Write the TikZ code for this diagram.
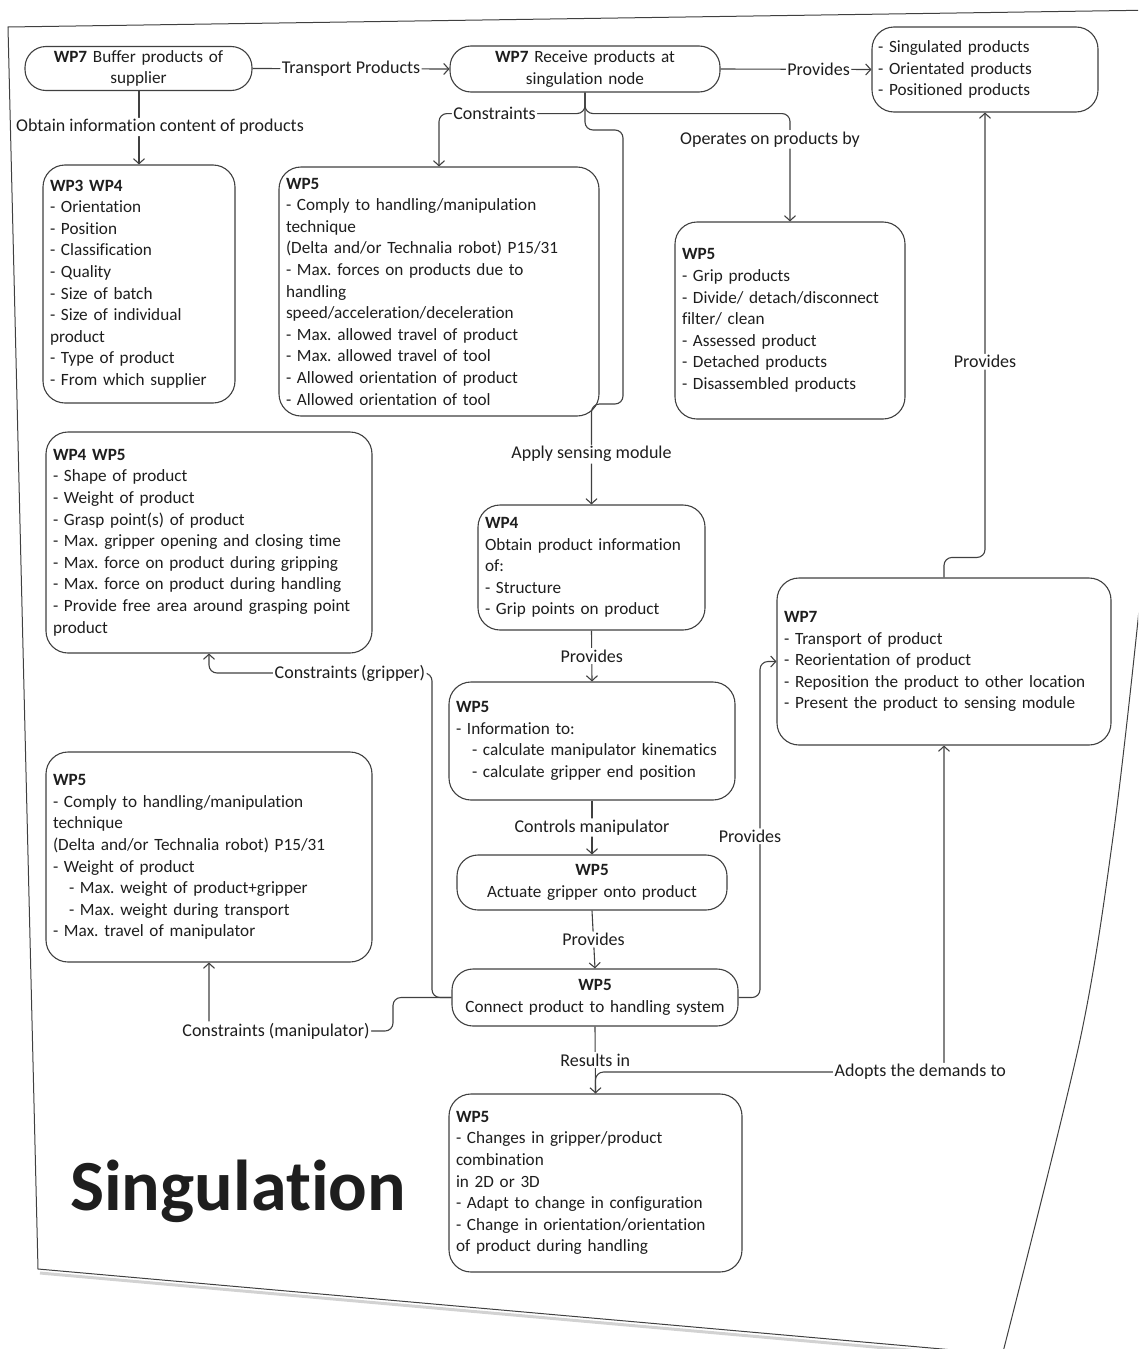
\documentclass[tikz,border=0pt]{standalone}
\usepackage{fontspec}
\setmainfont{Carlito}[Ligatures=NoCommon]
\usetikzlibrary{arrows.meta}
\definecolor{linec}{HTML}{404040}
\definecolor{txt}{HTML}{1E1E1E}
\frenchspacing
\begin{document}
\frenchspacing
\begin{tikzpicture}[x=1pt,y=-1pt,
  every node/.style={font=\fontsize{17.2}{21.6}\selectfont\frenchspacing, text=txt},
  box/.style={draw=linec, line width=1.1pt, rounded corners=22pt, fill=white, align=left, inner xsep=7pt, inner ysep=0pt},
  pill/.style={box, align=center, rounded corners=21pt},
  lbl/.style={fill=white, inner sep=1.5pt, font=\fontsize{18}{21.6}\selectfont},
  conn/.style={draw=linec, line width=1.1pt, rounded corners=8pt, -{Straight Barb[length=5pt,width=11pt]}},
  frameline/.style={draw=linec, line width=1pt}]
\useasboundingbox (0,0) rectangle (1138,1349);
\begin{scope}
\clip (0,0) rectangle (1138,1349);
\draw[gray!35, line width=3pt] (40,1273) -- (1010,1359);
\draw[frameline] (1160,10) -- (8,27) -- (38,1269) -- (1010,1355);
\draw[frameline] plot[smooth] coordinates {(1150,480) (1138,620) (1113,837) (1080,1040) (1003,1352)};
\end{scope}

% nodes
\node[pill, text width=213pt, minimum height=44pt] (buf) at (138.5,68.5) {\textbf{WP7} Buffer products of\\supplier};
\node[pill, text width=256pt, minimum height=46pt] (recv) at (585,69) {\textbf{WP7} Receive products at\\singulation node};
\node[box, text width=214pt, inner xsep=6pt, minimum height=85pt] (out) at (985,69.5) {- Singulated products\\- Orientated products\\- Positioned products};
\node[box, text width=178pt, minimum height=238pt] (wp34) at (139,284) {\textbf{WP3 WP4}\\- Orientation\\- Position\\- Classification\\- Quality\\- Size of batch\\- Size of individual\\product\\- Type of product\\- From which supplier};
\node[box, text width=306pt, minimum height=249pt] (wp5a) at (439,291.5) {\textbf{WP5}\\- Comply to handling/manipulation\\technique\\(Delta and/or Technalia robot) P15/31\\- Max. forces on products due to\\handling\\speed/acceleration/deceleration\\- Max. allowed travel of product\\- Max. allowed travel of tool\\- Allowed orientation of product\\- Allowed orientation of tool};
\node[box, text width=216pt, minimum height=197pt] (wp5b) at (790,320.5) {\textbf{WP5}\\- Grip products\\- Divide/ detach/disconnect\\filter/ clean\\- Assessed product\\- Detached products\\- Disassembled products};
\node[box, text width=312pt, minimum height=221pt] (wp45) at (209,542.5) {\textbf{WP4 WP5}\\- Shape of product\\- Weight of product\\- Grasp point(s) of product\\- Max. gripper opening and closing time\\- Max. force on product during gripping\\- Max. force on product during handling\\- Provide free area around grasping point\\product};
\node[box, text width=213pt, minimum height=125pt] (wp4) at (591.5,567.5) {\textbf{WP4}\\Obtain product information\\of:\\- Structure\\- Grip points on product};
\node[box, text width=320pt, minimum height=167pt] (wp7) at (944,661.5) {\textbf{WP7}\\- Transport of product\\- Reorientation of product\\- Reposition the product to other location\\- Present the product to sensing module};
\node[box, text width=272pt, minimum height=118pt] (wp5c) at (592,741) {\textbf{WP5}\\- Information to:\\\hspace*{16pt}- calculate manipulator kinematics\\\hspace*{16pt}- calculate gripper end position};
\node[box, text width=312pt, minimum height=210pt] (wp5d) at (209,857) {\textbf{WP5}\\- Comply to handling/manipulation\\technique\\(Delta and/or Technalia robot) P15/31\\- Weight of product\\\hspace*{16pt}- Max. weight of product+gripper\\\hspace*{16pt}- Max. weight during transport\\- Max. travel of manipulator};
\node[pill, text width=256pt, minimum height=55pt] (act) at (592,882.5) {\textbf{WP5}\\Actuate gripper onto product};
\node[pill, text width=272pt, minimum height=57pt] (conn) at (595,997.5) {\textbf{WP5}\\Connect product to handling system};
\node[box, text width=279pt, minimum height=178pt] (wp5e) at (595.5,1183) {\textbf{WP5}\\- Changes in gripper/product\\combination\\in 2D or 3D\\- Adapt to change in configuration\\- Change in orientation/orientation\\of product during handling};
\node[font=\fontsize{72}{80}\selectfont\bfseries, anchor=base west, inner sep=0pt] (title) at (70,1210) {Singulation};

% connectors
\draw[conn] (buf.east) -- node[lbl,pos=0.5]{Transport Products} (recv.west);
\draw[conn] (buf.south -| wp34.north) -- node[lbl,pos=0.49,xshift=21pt]{Obtain information content of products} (wp34.north);
\draw[conn] (recv.east) -- node[lbl,pos=0.65]{Provides} (out.west);
\draw[conn] (recv.south) -- ++(0,21) -| node[lbl,pos=0.31]{Constraints} (wp5a.north);
\draw[conn] (recv.south) -- ++(0,21) -| node[lbl,pos=0.62,xshift=-20pt]{Operates on products by} (wp5b.north);
\draw[conn] (recv.south) -- (585,130) -- (623,130) -- (623,404) -- (591.5,404) -- node[lbl,pos=0.5]{Apply sensing module} (wp4.north);
\draw[conn] (wp4.south) -- node[lbl]{Provides} (wp5c.north);
\draw[conn] (wp5c.south) -- node[lbl]{Controls manipulator} (act.north);
\draw[conn] (act.south) -- node[lbl]{Provides} (conn.north);
\draw[conn] (conn.south) -- node[lbl]{Results in} (wp5e.north);
\draw[conn] (wp5e.north) -- (595.5,1072) -| node[lbl,pos=0.466]{Adopts the demands to} (wp7.south);
\draw[conn] (wp7.north) -- ++(0,-20) -| node[lbl,pos=0.72]{Provides} (out.south);
\draw[conn] (conn.east) -- (760,997.5) |- node[lbl,pos=0.24,xshift=-10pt]{Provides} (wp7.west);
\draw[conn] (conn.west) -- (432,997.5) -- (432,673) -| node[lbl,pos=0.184]{Constraints (gripper)} (wp45.south);
\draw[conn] (conn.west) -- (393,997.5) -- (393,1031) -| node[lbl,pos=0.318]{Constraints (manipulator)} (wp5d.south);
\end{tikzpicture}
\end{document}
